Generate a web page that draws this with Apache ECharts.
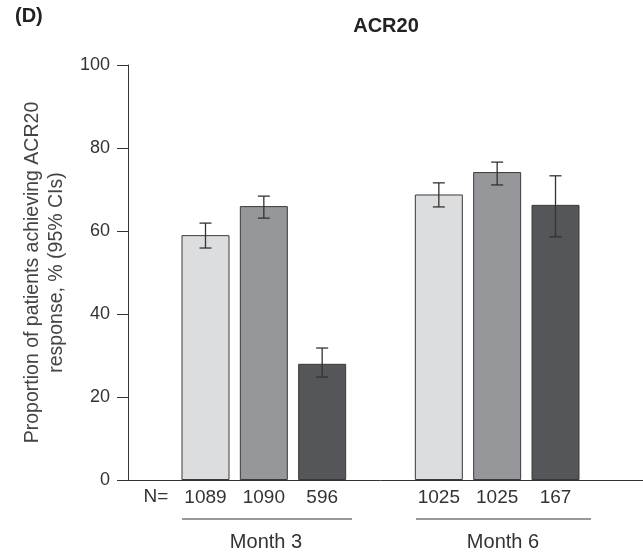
<!DOCTYPE html>
<html>
<head>
<meta charset="utf-8">
<script src="https://cdn.jsdelivr.net/npm/echarts@6/dist/echarts.min.js"></script>
<style>
html,body{margin:0;padding:0;background:#fff;}
#chart{width:643px;height:558px;}
</style>
</head>
<body>
<div id="chart"></div>
<script>
// N per bar and % achieving ACR20, with 95% CI
var month3N = ['1089', '1090', '596'];
var month6N = ['1025', '1025', '167'];
var values = [59.0, 66.0, 28.0, 68.8, 74.2, 66.3];
var ciLow  = [55.9, 63.1, 24.8, 65.8, 71.1, 58.6];
var ciHigh = [61.9, 68.4, 31.8, 71.6, 76.6, 73.3];
var barColors = ['#dcdddf', '#96979b', '#55565a', '#dcdddf', '#96979b', '#55565a'];
var groupNames = ['Month 3', 'Month 6'];

// categories: blank slot, month 3 bars, blank slot, month 6 bars, blank slot
var categories = [''].concat(month3N, [''], month6N, ['']);
var barSlots = [1, 2, 3, 5, 6, 7];

var barData = new Array();
var errData = new Array();
for (var i = 0; i < values.length; i++) {
	barData.push([barSlots[i], values[i], i]);
	errData.push([barSlots[i], ciLow[i], ciHigh[i]]);
}

var myChart = echarts.init(document.getElementById('chart'));
var font = 'Liberation Sans, Arial, sans-serif';

var option = {
	animation: false,
	backgroundColor: '#fff',
	textStyle: {fontFamily: font},
	grid: {left: 118, top: 65, width: 531, height: 415},
	xAxis: {
		type: 'category',
		data: categories,
		axisLine: {lineStyle: {color: '#333', width: 1}},
		axisTick: {show: false},
		axisLabel: {
			interval: 0, margin: 8, fontSize: 19, color: '#333', fontFamily: font
		}
	},
	yAxis: {
		type: 'value',
		min: 0, max: 100, interval: 20,
		offset: -10,
		axisLine: {show: true, lineStyle: {color: '#333', width: 1}},
		axisTick: {show: true, length: 11, lineStyle: {color: '#333'}},
		splitLine: {show: false},
		axisLabel: {margin: 18, fontSize: 18, color: '#333', fontFamily: font},
		name: 'Proportion of patients achieving ACR20\nresponse, % (95% CIs)',
		nameLocation: 'middle',
		nameGap: 56,
		nameTextStyle: {fontSize: 19.5, color: '#444', lineHeight: 24, fontFamily: font}
	},
	series: [
		{
			type: 'bar',
			barWidth: 48,
			data: barData.map(function (d) {
				return {
					value: [d[0], d[1]],
					itemStyle: {color: barColors[d[2]], borderColor: '#3a3a3a', borderWidth: 1}
				};
			})
		},
		{
			type: 'custom',
			data: errData,
			z: 10,
			renderItem: function (params, api) {
				var x = api.value(0);
				var lo = api.coord([x, api.value(1)]);
				var hi = api.coord([x, api.value(2)]);
				var cap = 6;
				var style = {stroke: '#333', lineWidth: 1.3};
				return {
					type: 'group',
					children: [
						{type: 'line', shape: {x1: lo[0], y1: lo[1], x2: hi[0], y2: hi[1]}, style: style},
						{type: 'line', shape: {x1: lo[0] - cap, y1: lo[1], x2: lo[0] + cap, y2: lo[1]}, style: style},
						{type: 'line', shape: {x1: hi[0] - cap, y1: hi[1], x2: hi[0] + cap, y2: hi[1]}, style: style}
					]
				};
			}
		}
	],
	graphic: [
		{type: 'text', x: 15, y: 16.5, style: {text: '(D)', font: 'bold 20px ' + font, fill: '#222', textVerticalAlign: 'middle'}},
		{type: 'text', x: 386, y: 26, style: {text: 'ACR20', font: 'bold 20px ' + font, fill: '#222', textAlign: 'center', textVerticalAlign: 'middle'}},
		{type: 'text', x: 156, y: 497, style: {text: 'N=', font: '19px ' + font, fill: '#333', textAlign: 'center', textVerticalAlign: 'middle'}},
		{type: 'line', shape: {x1: 182, y1: 519, x2: 352, y2: 519}, style: {stroke: '#333', lineWidth: 1}},
		{type: 'line', shape: {x1: 416, y1: 519, x2: 591, y2: 519}, style: {stroke: '#333', lineWidth: 1}},
		{type: 'text', x: 266, y: 542, style: {text: groupNames[0], font: '20px ' + font, fill: '#333', textAlign: 'center', textVerticalAlign: 'middle'}},
		{type: 'text', x: 503, y: 542, style: {text: groupNames[1], font: '20px ' + font, fill: '#333', textAlign: 'center', textVerticalAlign: 'middle'}}
	]
};
myChart.setOption(option);
</script>
</body>
</html>
